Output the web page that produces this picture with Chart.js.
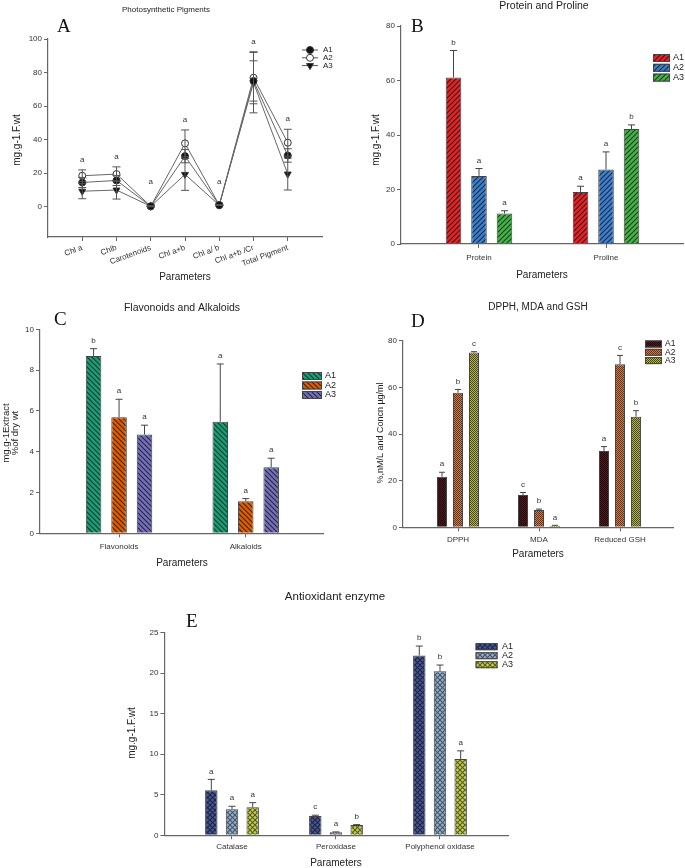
<!DOCTYPE html>
<html>
<head>
<meta charset="utf-8">
<script src="https://cdn.jsdelivr.net/npm/chart.js@4.4.1/dist/chart.umd.min.js"></script>
<style>
  body { margin: 0; background: #fff; width: 685px; height: 868px; position: relative; overflow: hidden; }
  canvas { position: absolute; }
</style>
</head>
<body>
<canvas id="chartA" width="340" height="300" style="left:0;top:0"></canvas>
<canvas id="chartB" width="345" height="300" style="left:340px;top:0"></canvas>
<canvas id="chartC" width="340" height="280" style="left:0;top:300px"></canvas>
<canvas id="chartD" width="345" height="280" style="left:340px;top:300px"></canvas>
<canvas id="chartE" width="685" height="288" style="left:0;top:580px"></canvas>
<script>
// ---- data ----
// A: photosynthetic pigments
const pigmentCats = ['Chl a', 'Chlb', 'Carotenoids', 'Chl a+b', 'Chl a/ b', 'Chl a+b /Cr', 'Total Pigment'];
const pigA1 = [14.5, 15.7, 0.3, 30.2, 1.0, 75.0, 30.6];
const pigA2 = [18.5, 19.5, 0.3, 37.8, 1.0, 76.9, 38.2];
const pigA3 = [9.3, 10.0, 0.3, 19.3, 1.0, 74.0, 19.5];
const pigA1Err = [3.0, 3.0, 0.2, 4.0, 0.2, 12.0, 4.0];
const pigA2Err = [3.5, 4.3, 0.2, 8.0, 0.2, 15.5, 8.0];
const pigA3Err = [4.5, 5.4, 0.2, 9.5, 0.2, 18.0, 9.5];
const pigLetters = ['a', 'a', 'a', 'a', 'a', 'a', 'a'];

// B: protein and proline
const protCats = ['Protein', 'Proline'];
const protA1 = [61.1, 19.1];
const protA2 = [25.0, 27.3];
const protA3 = [11.2, 42.2];
const protA1Err = [9.9, 2.1];
const protA2Err = [2.7, 6.5];
const protA3Err = [1.0, 1.5];
const protA1Sig = ['b', 'a'];
const protA2Sig = ['a', 'a'];
const protA3Sig = ['a', 'b'];

// C: flavonoids and alkaloids
const flavCats = ['Flavonoids', 'Alkaloids'];
const flavA1 = [8.69, 5.47];
const flavA2 = [5.69, 1.57];
const flavA3 = [4.84, 3.24];
const flavA1Err = [0.36, 2.83];
const flavA2Err = [0.88, 0.13];
const flavA3Err = [0.46, 0.44];
const flavA1Sig = ['b', 'a'];
const flavA2Sig = ['a', 'a'];
const flavA3Sig = ['a', 'a'];

// D: DPPH, MDA and GSH
const dpphCats = ['DPPH', 'MDA', 'Reduced GSH'];
const dpphA1 = [21.7, 13.9, 32.7];
const dpphA2 = [57.7, 7.4, 69.9];
const dpphA3 = [74.9, 0.7, 47.4];
const dpphA1Err = [1.9, 1.0, 1.9];
const dpphA2Err = [1.4, 0.4, 3.8];
const dpphA3Err = [0.4, 0.15, 2.6];
const dpphA1Sig = ['a', 'c', 'a'];
const dpphA2Sig = ['b', 'b', 'c'];
const dpphA3Sig = ['c', 'a', 'b'];

// E: antioxidant enzymes
const enzCats = ['Catalase', 'Peroxidase', 'Polyphenol oxidase'];
const enzA1 = [5.55, 2.38, 22.2];
const enzA2 = [3.2, 0.37, 20.23];
const enzA3 = [3.45, 1.27, 9.42];
const enzA1Err = [1.35, 0.1, 1.15];
const enzA2Err = [0.38, 0.05, 0.78];
const enzA3Err = [0.58, 0.05, 1.0];
const enzA1Sig = ['a', 'c', 'b'];
const enzA2Sig = ['a', 'a', 'b'];
const enzA3Sig = ['a', 'b', 'a'];

const FONT = '"Liberation Sans", Arial, sans-serif';
const SERIF = '"Liberation Serif", "Times New Roman", serif';
const AXIS = '#666';

// fill patterns for the bars
function pattern(bg, fg, kind) {
  const s = kind === 'check' ? 2 : 5;
  const c = document.createElement('canvas');
  c.width = c.height = s;
  const g = c.getContext('2d');
  g.fillStyle = bg;
  g.fillRect(0, 0, s, s);
  g.strokeStyle = fg;
  g.fillStyle = fg;
  g.lineWidth = 1.1;
  const line = (x1, y1, x2, y2) => { g.beginPath(); g.moveTo(x1, y1); g.lineTo(x2, y2); g.stroke(); };
  if (kind === 'fwd' || kind === 'cross') {
    line(-1, s + 1, s + 1, -1); line(-1, 1, 1, -1); line(s - 1, s + 1, s + 1, s - 1);
  }
  if (kind === 'back' || kind === 'cross') {
    line(-1, -1, s + 1, s + 1); line(s - 1, -1, s + 1, 1); line(-1, s - 1, 1, s + 1);
  }
  if (kind === 'check') {
    g.fillRect(0, 0, 1, 1); g.fillRect(1, 1, 1, 1);
  }
  return g.createPattern(c, 'repeat');
}

const xy = arr => arr.map((v, i) => ({ x: i, y: v }));

// error bars + significance letters
const errorBars = {
  id: 'errorBars',
  afterDatasetsDraw(chart, args, o) {
    const ctx = chart.ctx, ys = chart.scales.y;
    ctx.save();
    ctx.strokeStyle = o.color || '#444';
    ctx.lineWidth = 1;
    const tops = {};
    chart.data.datasets.forEach((ds, di) => {
      if (!ds.errors) return;
      chart.getDatasetMeta(di).data.forEach((el, i) => {
        const v = ds.data[i].y;
        const top = ys.getPixelForValue(v + ds.errors[i]);
        const bot = o.both ? ys.getPixelForValue(v - ds.errors[i]) : el.y;
        const cw = o.cap || 3.5;
        ctx.beginPath();
        ctx.moveTo(el.x, bot); ctx.lineTo(el.x, top);
        ctx.moveTo(el.x - cw, top); ctx.lineTo(el.x + cw, top);
        if (o.both) { ctx.moveTo(el.x - cw, bot); ctx.lineTo(el.x + cw, bot); }
        ctx.stroke();
        tops[i] = Math.min(tops[i] ?? Infinity, top);
        if (ds.sig) {
          ctx.fillStyle = '#333';
          ctx.font = `8px ${FONT}`;
          ctx.textAlign = 'center';
          ctx.textBaseline = 'bottom';
          ctx.fillText(ds.sig[i], el.x, top - 4);
        }
      });
    });
    if (o.catLetters) {
      const zero = ys.getPixelForValue(0);
      ctx.fillStyle = '#333';
      ctx.font = `8px ${FONT}`;
      ctx.textAlign = 'center';
      ctx.textBaseline = 'middle';
      o.catLetters.forEach((l, i) => {
        const x = chart.scales.x.getPixelForValue(i);
        ctx.fillText(l, x, Math.min(tops[i] - 10, zero - 25));
      });
    }
    ctx.restore();
  }
};

// titles, panel letter, axis titles
const decor = {
  id: 'decor',
  afterDraw(chart, args, o) {
    const ctx = chart.ctx;
    ctx.save();
    ctx.fillStyle = '#222';
    ctx.textAlign = 'center';
    ctx.textBaseline = 'middle';
    ctx.font = `${o.titleSize}px ${FONT}`;
    ctx.fillText(o.title, o.titleX, o.titleY);
    ctx.font = `${o.xTitleSize || 10}px ${FONT}`;
    ctx.fillText(o.xTitle, o.xTitleX, o.xTitleY);
    ctx.fillStyle = '#111';
    ctx.font = `19px ${SERIF}`;
    ctx.textAlign = 'left';
    ctx.textBaseline = 'alphabetic';
    ctx.fillText(o.letter, o.letterX, o.letterY);
    ctx.fillStyle = '#222';
    ctx.font = `${o.yTitleSize || 10}px ${FONT}`;
    ctx.textAlign = 'center';
    ctx.textBaseline = 'middle';
    ctx.translate(o.yTitleX, o.yTitleY);
    ctx.rotate(-Math.PI / 2);
    const lines = [].concat(o.yTitle);
    lines.forEach((l, i) => ctx.fillText(l, 0, (i - (lines.length - 1) / 2) * 9.5));
    ctx.restore();
  }
};

// legend drawn at a fixed spot
const boxLegend = {
  id: 'boxLegend',
  afterDraw(chart, args, o) {
    const ctx = chart.ctx;
    ctx.save();
    chart.data.datasets.forEach((ds, i) => {
      const y = o.y + i * o.rowH;
      if (o.lines) {
        ctx.strokeStyle = '#555';
        ctx.lineWidth = 1;
        ctx.beginPath(); ctx.moveTo(o.x, y); ctx.lineTo(o.x + o.w, y); ctx.stroke();
        ctx.fillStyle = ds.pointBackgroundColor;
        ctx.strokeStyle = ds.pointBorderColor;
        Chart.helpers.drawPoint(ctx, { pointStyle: ds.pointStyle, rotation: ds.pointRotation || 0, radius: ds.pointRadius, borderWidth: 1 }, o.x + o.w / 2, y);
      } else {
        ctx.fillStyle = ds.backgroundColor;
        ctx.fillRect(o.x, y - o.h / 2, o.w, o.h);
        ctx.strokeStyle = '#444';
        ctx.lineWidth = 1;
        ctx.strokeRect(o.x + 0.5, y - o.h / 2 + 0.5, o.w - 1, o.h - 1);
      }
      ctx.fillStyle = '#222';
      ctx.font = `${o.size || 9}px ${FONT}`;
      ctx.textAlign = 'left';
      ctx.textBaseline = 'middle';
      ctx.fillText(ds.label, o.textX, y);
    });
    ctx.restore();
  }
};

function yAxis(min, max, step, width) {
  return {
    type: 'linear', min: min, max: max,
    afterFit: s => { s.width = width; },
    afterBuildTicks: s => {
      const t = [];
      for (let v = Math.max(min, 0); v <= max + 1e-9; v += step) t.push({ value: v });
      s.ticks = t;
    },
    grid: { display: true, drawOnChartArea: false, tickLength: 4, color: AXIS },
    border: { display: true, color: AXIS, width: 1.2 },
    ticks: { font: { size: 8, family: FONT }, color: '#333', padding: 2 }
  };
}

function xAxis(min, max, labels, height, rot, pad) {
  return {
    type: 'linear', min: min, max: max, offset: false,
    afterFit: s => { s.height = height; },
    afterBuildTicks: s => { s.ticks = labels.map((l, i) => ({ value: i })); },
    grid: { display: true, drawOnChartArea: false, tickLength: 4, color: AXIS, offset: false },
    border: { display: true, color: AXIS, width: 1.2 },
    ticks: {
      callback: v => labels[v] ?? '', autoSkip: false,
      maxRotation: rot, minRotation: rot,
      font: { size: 8, family: FONT }, color: '#333', padding: pad
    }
  };
}

function barSet(label, values, errors, sig, bg, fg, kind) {
  return {
    label: label, data: xy(values), errors: errors, sig: sig,
    backgroundColor: pattern(bg, fg, kind), borderColor: '#444', borderWidth: 1
  };
}

const baseOptions = (padding) => ({
  responsive: false, animation: false,
  layout: { padding: padding },
  plugins: { legend: { display: false }, tooltip: { enabled: false } }
});

// ---- A ----
function pigSet(label, values, errors, style, fill) {
  return {
    label: label, data: xy(values), errors: errors,
    borderColor: '#666', borderWidth: 1, showLine: true,
    pointStyle: style, pointRotation: style === 'triangle' ? 180 : 0,
    pointRadius: style === 'triangle' ? 4 : 3.5,
    pointBackgroundColor: fill, pointBorderColor: '#333', pointBorderWidth: 1
  };
}
const optsA = baseOptions({ left: 0, top: 39, right: 18, bottom: 0 });
optsA.scales = { x: xAxis(-1, 7, pigmentCats, 63, 20, 2), y: yAxis(-18, 100, 20, 48) };
optsA.plugins.errorBars = { both: true, cap: 4, color: '#555', catLetters: pigLetters };
optsA.plugins.decor = { title: 'Photosynthetic Pigments', titleSize: 8, titleX: 166, titleY: 10,
  letter: 'A', letterX: 57, letterY: 32, xTitle: 'Parameters', xTitleX: 185, xTitleY: 277,
  yTitle: 'mg.g-1.F.wt', yTitleX: 17, yTitleY: 140 };
optsA.plugins.boxLegend = { lines: true, x: 302, y: 50, rowH: 7.8, w: 16, textX: 323, size: 8 };
new Chart(document.getElementById('chartA'), {
  type: 'line',
  data: { datasets: [
    pigSet('A1', pigA1, pigA1Err, 'circle', '#111'),
    pigSet('A2', pigA2, pigA2Err, 'circle', '#fff'),
    pigSet('A3', pigA3, pigA3Err, 'triangle', '#111')
  ] },
  options: optsA,
  plugins: [errorBars, decor, boxLegend]
});

// ---- B ----
const optsB = baseOptions({ left: 0, top: 26, right: 2, bottom: 0 });
optsB.scales = { x: xAxis(-0.614, 1.606, protCats, 56, 0, 5), y: yAxis(0, 80, 20, 61) };
optsB.plugins.errorBars = { cap: 3.5 };
optsB.plugins.decor = { title: 'Protein and Proline', titleSize: 10.5, titleX: 204, titleY: 6,
  letter: 'B', letterX: 71, letterY: 32, xTitle: 'Parameters', xTitleX: 202, xTitleY: 275,
  yTitle: 'mg.g-1.F.wt', yTitleX: 36, yTitleY: 140 };
optsB.plugins.boxLegend = { x: 313, y: 58, rowH: 9.8, w: 17, h: 8, textX: 333, size: 9 };
new Chart(document.getElementById('chartB'), {
  type: 'bar',
  data: { datasets: [
    barSet('A1', protA1, protA1Err, protA1Sig, '#e0262b', '#4a0c0c', 'fwd'),
    barSet('A2', protA2, protA2Err, protA2Sig, '#3d7fc9', '#172a48', 'fwd'),
    barSet('A3', protA3, protA3Err, protA3Sig, '#46b14a', '#1a421c', 'fwd')
  ] },
  options: Object.assign(optsB, { datasets: { bar: { categoryPercentage: 0.602, barPercentage: 0.61 } } }),
  plugins: [errorBars, decor, boxLegend]
});

// ---- C ----
const optsC = baseOptions({ left: 0, top: 29.3, right: 17, bottom: 0 });
optsC.scales = { x: xAxis(-0.624, 1.61, flavCats, 46.7, 0, 5), y: yAxis(0, 10, 2, 40) };
optsC.plugins.errorBars = { cap: 3.5 };
optsC.plugins.decor = { title: 'Flavonoids and Alkaloids', titleSize: 10.5, titleX: 182, titleY: 8,
  letter: 'C', letterX: 54, letterY: 25, xTitle: 'Parameters', xTitleX: 182, xTitleY: 263,
  yTitle: ['mg.g-1Extract', '%of dry wt'], yTitleSize: 9.5, yTitleX: 11, yTitleY: 133 };
optsC.plugins.boxLegend = { x: 302, y: 76, rowH: 9.5, w: 20, h: 8, textX: 325, size: 9 };
new Chart(document.getElementById('chartC'), {
  type: 'bar',
  data: { datasets: [
    barSet('A1', flavA1, flavA1Err, flavA1Sig, '#1b9e77', '#0a3a2c', 'back'),
    barSet('A2', flavA2, flavA2Err, flavA2Sig, '#d95f02', '#4a2000', 'back'),
    barSet('A3', flavA3, flavA3Err, flavA3Sig, '#7570b3', '#26244a', 'back')
  ] },
  options: Object.assign(optsC, { datasets: { bar: { categoryPercentage: 0.603, barPercentage: 0.61 } } }),
  plugins: [errorBars, decor, boxLegend]
});

// ---- D ----
const optsD = baseOptions({ left: 0, top: 40.7, right: 12, bottom: 0 });
optsD.scales = { x: xAxis(-0.679, 2.654, dpphCats, 52.7, 0, 4), y: yAxis(0, 80, 20, 63) };
optsD.plugins.errorBars = { cap: 3 };
optsD.plugins.decor = { title: 'DPPH, MDA and GSH', titleSize: 10, titleX: 198, titleY: 7,
  letter: 'D', letterX: 71, letterY: 27, xTitle: 'Parameters', xTitleX: 198, xTitleY: 254,
  yTitle: '%,nM/L and Concn µg/ml', yTitleSize: 9, yTitleX: 41, yTitleY: 133 };
optsD.plugins.boxLegend = { x: 305, y: 44, rowH: 8.3, w: 17, h: 7, textX: 325, size: 8.5 };
new Chart(document.getElementById('chartD'), {
  type: 'bar',
  data: { datasets: [
    barSet('A1', dpphA1, dpphA1Err, dpphA1Sig, '#5e141b', '#2a0508', 'check'),
    barSet('A2', dpphA2, dpphA2Err, dpphA2Sig, '#dc7a34', '#6a3010', 'check'),
    barSet('A3', dpphA3, dpphA3Err, dpphA3Sig, '#bcbc22', '#4a4a08', 'check')
  ] },
  options: Object.assign(optsD, { datasets: { bar: { categoryPercentage: 0.593, barPercentage: 0.625 } } }),
  plugins: [errorBars, decor, boxLegend]
});

// ---- E ----
const optsE = baseOptions({ left: 0, top: 52.7, right: 177, bottom: 0 });
optsE.scales = { x: xAxis(-0.65, 2.654, enzCats, 32.7, 0, 3), y: yAxis(0, 25, 5, 164.4) };
optsE.plugins.errorBars = { cap: 3.5 };
optsE.plugins.decor = { title: 'Antioxidant enzyme', titleSize: 11.5, titleX: 335, titleY: 17,
  letter: 'E', letterX: 186, letterY: 47, xTitle: 'Parameters', xTitleX: 336, xTitleY: 283,
  yTitle: 'mg.g-1.F.wt', yTitleX: 132, yTitleY: 153 };
optsE.plugins.boxLegend = { x: 475.6, y: 66.7, rowH: 9, w: 22, h: 7, textX: 502, size: 9 };
new Chart(document.getElementById('chartE'), {
  type: 'bar',
  data: { datasets: [
    barSet('A1', enzA1, enzA1Err, enzA1Sig, '#4a5890', '#1e2548', 'cross'),
    barSet('A2', enzA2, enzA2Err, enzA2Sig, '#97adc8', '#46566c', 'cross'),
    barSet('A3', enzA3, enzA3Err, enzA3Sig, '#c4cc5a', '#565c1c', 'cross')
  ] },
  options: Object.assign(optsE, { datasets: { bar: { categoryPercentage: 0.597, barPercentage: 0.6 } } }),
  plugins: [errorBars, decor, boxLegend]
});
</script>
</body>
</html>
